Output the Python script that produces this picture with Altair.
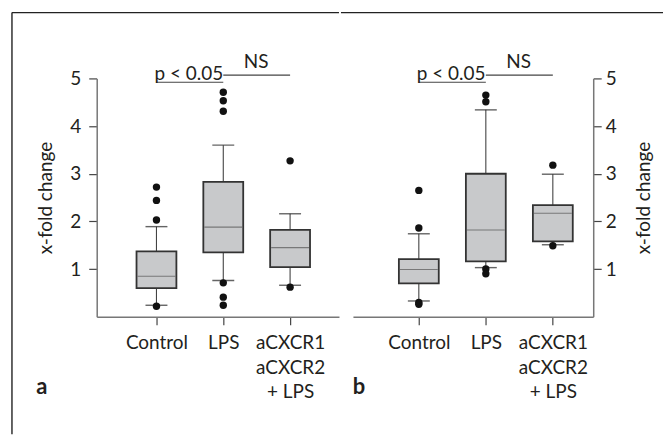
import altair as alt
import pandas as pd

# ---- data ----
categories = ["Control", "LPS", "aCXCR1|aCXCR2|+ LPS"]

a_low = [0.24, 0.76, 0.66]
a_q1 = [0.60, 1.35, 1.04]
a_median = [0.85, 1.88, 1.45]
a_q3 = [1.37, 2.83, 1.82]
a_high = [1.89, 3.60, 2.16]
a_outliers = [[2.72, 2.44, 2.03, 0.22], [4.71, 4.53, 4.31, 0.71, 0.41, 0.24], [3.27, 0.62]]

b_low = [0.33, 1.03, 1.51]
b_q1 = [0.70, 1.16, 1.58]
b_median = [0.99, 1.82, 2.17]
b_q3 = [1.21, 3.00, 2.34]
b_high = [1.74, 4.34, 2.99]
b_outliers = [[2.65, 1.86, 0.30, 0.26], [4.65, 4.51, 1.00, 0.90], [3.18, 1.49]]

sig_labels = ["p < 0.05", "NS"]
sig_from = ["Control", "LPS"]
sig_to = ["LPS", "aCXCR1|aCXCR2|+ LPS"]
sig_level = [4.92, 5.07]

y_ticks = [1, 2, 3, 4, 5]
y_title = "x-fold change"
panel_letters = ["a", "b"]

FONT = "Lato"
TXT = "#231f20"
PW_A, PW_B, PH = 243, 241, 239


def panel(low, q1, med, q3, high, outl, width, pad, align, orient, letter,
          letter_x, frame):
    box = pd.DataFrame({"cat": categories, "low": low, "q1": q1, "med": med,
                        "q3": q3, "high": high})
    pts = pd.DataFrame([{"cat": c, "v": v} for c, vs in zip(categories, outl) for v in vs])
    sig = pd.DataFrame({"lab": sig_labels, "c1": sig_from, "c2": sig_to, "lvl": sig_level})

    x_axis = alt.Axis(title=None, labelAngle=0, labelExpr="split(datum.label, '|')",
                      labelLineHeight=24.5, labelPadding=9, labelBaseline="top",
                      labelOverlap=False)
    xs = alt.Scale(type="point", padding=pad, align=align)
    X = alt.X("cat:N", sort=categories, scale=xs, axis=x_axis)
    if orient == "left":
        y_axis = alt.Axis(values=y_ticks, title=y_title, orient="left", labelPadding=8,
                          titlePadding=14)
    else:
        y_axis = alt.Axis(values=y_ticks, title=y_title, orient="right", labelPadding=4,
                          titlePadding=18, titleAngle=270, titleBaseline="top")
    ys = alt.Scale(domain=[0, 5], nice=False, zero=True)
    Y = lambda f: alt.Y(f, type="quantitative", scale=ys, axis=y_axis)

    base_box = alt.Chart(box)
    whisk_hi = base_box.mark_rule(color="#444", strokeWidth=1.1).encode(x=X, y=Y("q3"), y2="high:Q")
    whisk_lo = base_box.mark_rule(color="#444", strokeWidth=1.1).encode(x=X, y=Y("low"), y2="q1:Q")
    cap_hi = base_box.mark_tick(color="#222", size=22, thickness=1.4).encode(x=X, y=Y("high"))
    cap_lo = base_box.mark_tick(color="#222", size=22, thickness=1.4).encode(x=X, y=Y("low"))
    bars = base_box.mark_bar(size=40, fill="#c8c9cb", stroke="#333", strokeWidth=1.8).encode(
        x=X, y=Y("q1"), y2="q3:Q")
    meds = base_box.mark_tick(color="#555", size=38, thickness=1.1).encode(x=X, y=Y("med"))
    dots = alt.Chart(pts).mark_circle(size=55, color="#111", opacity=1).encode(x=X, y=Y("v"))

    sig_c = alt.Chart(sig)
    sig_rules = sig_c.mark_rule(color="#444", strokeWidth=1.2).encode(
        x=alt.X("c1:N", sort=categories, scale=xs, axis=x_axis), x2="c2:N", y=Y("lvl"))
    p_text = alt.Chart(sig.iloc[[0]]).mark_text(
        align="left", baseline="alphabetic", dx=-2, dy=-2, font=FONT, fontSize=19,
        color=TXT).encode(x=alt.X("c1:N", sort=categories, scale=xs, axis=x_axis),
                          y=Y("lvl"), text="lab:N")
    ns_text = alt.Chart(sig.iloc[[1]]).mark_text(
        align="center", baseline="alphabetic", dx=33, dy=-7, font=FONT, fontSize=19,
        color=TXT).encode(x=alt.X("c1:N", sort=categories, scale=xs, axis=x_axis),
                          y=Y("lvl"), text="lab:N")

    one = pd.DataFrame({"k": [letter]})
    lab = alt.Chart(one).mark_text(font=FONT, fontSize=22, fontWeight="bold", color=TXT,
                                   align="center", baseline="alphabetic").encode(
        x=alt.value(letter_x), y=alt.value(317), text="k:N")

    layers = [whisk_hi, whisk_lo, cap_hi, cap_lo, bars, meds, dots, sig_rules, p_text,
              ns_text, lab]
    for (x1, x2, y1, y2) in frame:
        layers.append(alt.Chart(one).mark_rule(color="#222", strokeWidth=1.4).encode(
            x=alt.value(x1), x2=alt.value(x2), y=alt.value(y1), y2=alt.value(y2)))
    return alt.layer(*layers).properties(width=width, height=PH)


left = panel(a_low, a_q1, a_median, a_q3, a_high, a_outliers, PW_A, 0.813, 0.55, "left",
             panel_letters[0], -55, [(-85, -85, -66, 357), (-85, PW_A, -66, -66)])
right = panel(b_low, b_q1, b_median, b_q3, b_high, b_outliers, PW_B, 0.793, 0.62, "right",
              panel_letters[1], 6, [(-12, 311, -66, -66)])

chart = alt.hconcat(left, right, spacing=0).properties(
    padding={"left": 11, "top": 11, "right": 0, "bottom": 0},
    background="white",
).configure_view(stroke=None).configure_axis(
    domainColor="#777", domainWidth=1.5, tickColor="#444", tickWidth=1.2, tickSize=8,
    labelFont=FONT, labelFontSize=19, labelColor=TXT, titleFont=FONT, titleFontSize=19,
    titleFontWeight="normal", titleColor=TXT, grid=False
)

chart.save("out.html", embed_options={"renderer": "svg", "actions": False})
